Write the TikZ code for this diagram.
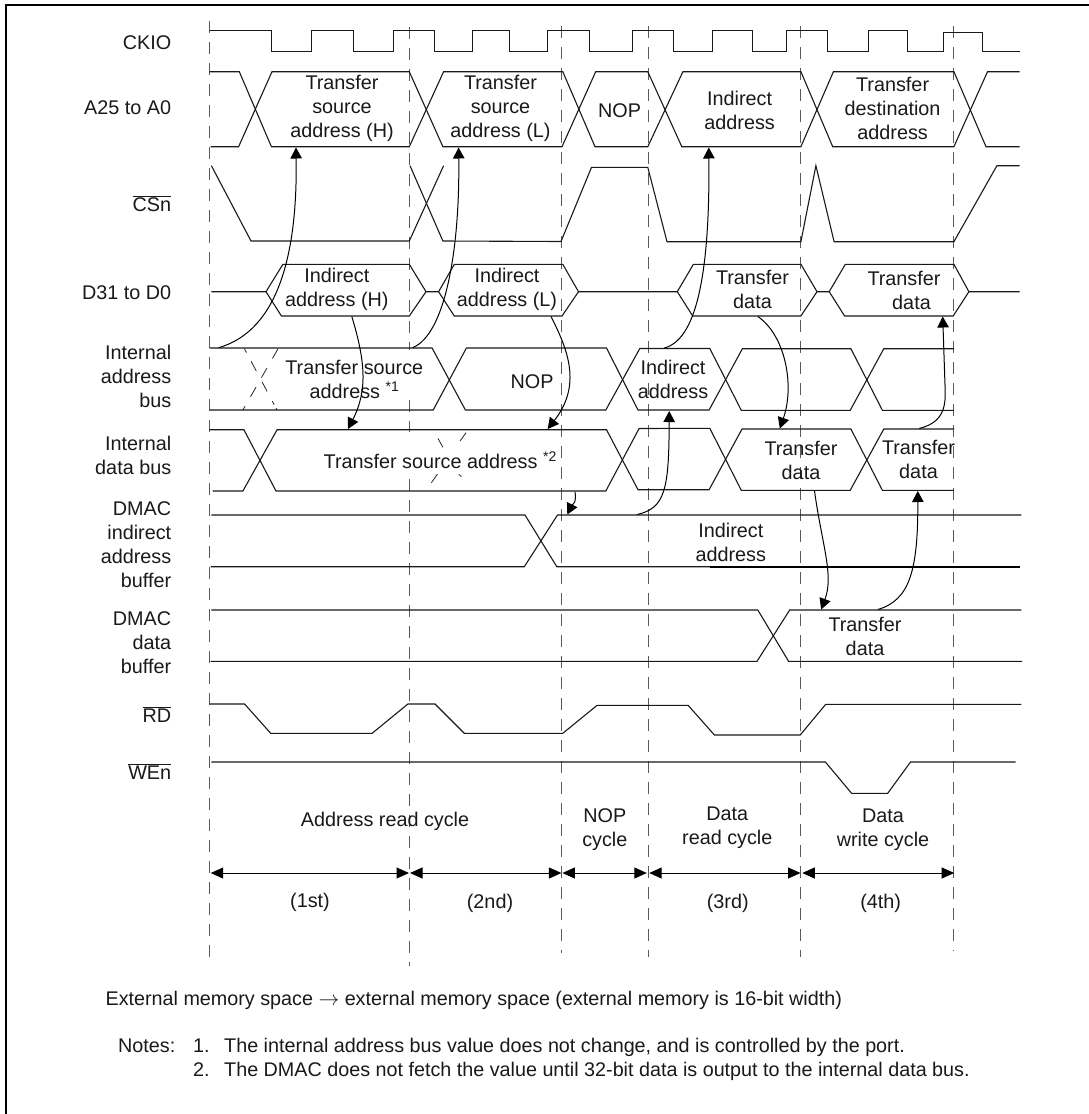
\documentclass[tikz,border=0pt]{standalone}
\usepackage{fontspec}
\setmainfont{Liberation Sans}
\usetikzlibrary{arrows.meta}
\tikzset{
  lab/.style={font=\fontsize{19.8}{24}\selectfont, inner sep=0pt, align=center, yshift=-2.4pt,
    text=black!90, execute at begin node=\strut, execute at end node=\strut},
  rlab/.style={lab, align=right, anchor=east},
  note/.style={font=\fontsize{19.75}{24}\selectfont, inner sep=0pt, anchor=base west, text=black!90},
  wave/.style={line width=1.1pt, black!90, line join=miter},
  guide/.style={line width=0.9pt, black!65, dash pattern=on 12pt off 9pt},
  ghost/.style={line width=0.8pt, black!85},
  xfer/.style={line width=1pt, black, -{Triangle[length=11pt,width=11.5pt]}},
  span/.style={line width=1pt, black, {Triangle[length=12.5pt,width=11pt]}-{Triangle[length=12.5pt,width=11pt]}},
  frameline/.style={line width=2.2pt, black}
}
\newcommand{\barlab}[1]{$\overline{\mbox{#1}}$}
\begin{document}
\begin{tikzpicture}[x=1pt,y=-1pt]
\useasboundingbox (0,0) rectangle (1089,1114);
% frame
\draw[frameline] (1089,5) -- (6,5) -- (6,1114);
% guides
\draw[guide] (209.6,21) -- (209.6,962);
\draw[guide] (409.3,27) -- (409.3,350);
\draw[guide] (409.3,400) -- (409.3,432);
\draw[guide] (409.3,479) -- (409.3,966);
\draw[guide] (561.7,26) -- (561.7,953);
\draw[guide] (648.2,26) -- (648.2,957);
\draw[guide] (800.9,26) -- (800.9,957);
\draw[guide] (953.9,26) -- (953.9,951);
% ghost crossings
\draw[ghost, dash pattern=on 11pt off 11pt] (277.9,349) -- (242.9,410);
\draw[ghost, dash pattern=on 4pt off 10pt on 11pt off 12pt on 11pt off 11pt on 4pt] (244.6,349) -- (277,410);
\draw[ghost] (466.1,432.7) -- (460,441);
\draw[ghost] (437.5,474) -- (431.4,482.7);
\draw[ghost] (437.9,438.3) -- (442.9,447.3);
\draw[ghost] (458.9,474.3) -- (461.4,476.7);
% CKIO
\draw[wave] (209.6,30.3) -| (271.8,51.3) -| (311.4,30.3) -| (353.6,51.3) -| (393.2,30.3) -| (434.6,51.3) -| (472.9,30.3) -| (509.6,51.3) -| (547.5,30.3) -| (589.4,51.3) -| (632.8,30.3) -| (673.4,51.3) -| (712.3,30.3) -| (752.5,51.3) -| (786.5,30.3) -| (827.8,51.3) -| (868.8,30.3) -| (907.6,51.3) -| (943.4,32.3) -| (982.9,51.7) -- (1019.7,51.7);
% A25 to A0
\draw[wave] (209.6,71.7) -- (239.3,71.7) -- (271.4,146.7) -- (409.3,146.7) -- (443.6,71.7) -- (562.8,71.7) -- (595,146.7) -- (647.8,146.7) -- (682.9,71.7) -- (800.9,71.7) -- (832.7,146.7) -- (953.9,146.7) -- (987.5,71.7) -- (1019.7,71.7);
\draw[wave] (210.7,146.7) -- (238.6,146.7) -- (272,71.7) -- (409.3,71.7) -- (442.9,146.7) -- (562,146.7) -- (595.7,71.7) -- (647.8,71.7) -- (681.8,146.7) -- (800.9,146.7) -- (833.4,71.7) -- (953.9,71.7) -- (986,146.7) -- (1019.7,146.7);
% CSn
\draw[wave] (211.4,165.7) -- (251,241) -- (409.3,241) -- (443.6,165.7);
\draw[wave] (410,165.7) -- (442.9,241) -- (561,241.5) -- (591.5,167.3) -- (647.8,167.3) -- (667,241.7) -- (800.9,241.7) -- (815.9,165.7) -- (834.1,241.7) -- (953.9,241.7) -- (996.9,165.7) -- (1019.7,165.7);
% D31 to D0
\draw[wave] (211.4,291.7) -- (266,291.7) -- (282.9,264.3) -- (409.3,264.3) -- (426,291.7) -- (438.6,291.7) -- (454.3,264.3) -- (562.8,264.3) -- (578.5,291.7) -- (677.3,291.7) -- (693.4,264.3) -- (800.9,264.3) -- (817,291.7) -- (829.2,291.7) -- (845.3,264.3) -- (953.9,264.3) -- (968.9,291.7) -- (1019.7,291.7);
\draw[wave] (266,291.7) -- (281.4,316) -- (409.3,316) -- (426,291.7);
\draw[wave] (438.6,291.7) -- (454.3,316) -- (562,316) -- (578.5,291.7);
\draw[wave] (677.3,291.7) -- (692.7,316) -- (800.9,316) -- (817,291.7);
\draw[wave] (829.2,291.7) -- (844.6,316) -- (953.2,316) -- (968.9,291.7);
% Internal address bus
\draw[wave] (209.6,348) -- (432.1,348) -- (465.4,410) -- (605.8,410) -- (639.8,348.5) -- (709.8,348.5) -- (741.3,410.3) -- (850.2,410.3) -- (883.8,348.7) -- (954.2,348.7);
\draw[wave] (209.6,410) -- (433.2,410) -- (466.4,348) -- (606.5,348) -- (638,410) -- (709.1,410) -- (742.4,348.7) -- (850.9,348.7) -- (882.4,410.3) -- (954.2,410.3);
% Internal data bus
\draw[wave] (209.6,429.7) -- (243.9,429.7) -- (276,491) -- (605.8,491) -- (639.1,428.5) -- (709.8,428.3) -- (741.3,490.3) -- (850.2,490.3) -- (883.8,429) -- (954.2,429);
\draw[wave] (212.5,491) -- (242.9,491) -- (277.1,429.7) -- (606.5,429.7) -- (638,489.7) -- (709.1,489.7) -- (742,429) -- (850.9,429) -- (882.4,490.3) -- (954.2,490.3);
% DMAC indirect address buffer
\draw[wave] (211.4,515) -- (525,515) -- (556.8,566.7) -- (1019.7,566.7);
\draw[wave] (210.7,566.7) -- (524.3,566.7) -- (557.5,515) -- (1021.4,515);
\draw[line width=1.7pt, black] (709.8,566.7) -- (1019.7,566.7);
% DMAC data buffer
\draw[wave] (211.4,610) -- (757.8,610) -- (788.6,661.3) -- (1022.2,661.3);
\draw[wave] (210.7,661.3) -- (757,661.3) -- (789.7,610) -- (1021.4,610);
% RD
\draw[wave] (209.6,704) -- (244.6,704) -- (270.7,733.3) -- (372.1,733.3) -- (407.9,704) -- (435,704) -- (464.3,733.3) -- (562.8,733.3) -- (597.1,705.3) -- (688.1,705.3) -- (714.4,735) -- (800.2,735) -- (825.7,704.3) -- (1021.4,704.3);
% WEn
\draw[wave] (211.4,762) -- (825.4,762) -- (851.6,793.3) -- (887.7,793.3) -- (910.5,762) -- (1015.5,762);
% cycle spans
\draw[span] (210.7,873) -- (409,873);
\draw[span] (410,873) -- (561.4,873);
\draw[span] (562.4,873) -- (646.8,873);
\draw[span] (649.2,873) -- (800.5,873);
\draw[span] (802.3,873) -- (954.2,873);
% signal labels
\node[rlab] (ckio) at (171.4,42.3) {CKIO};
\node[rlab] (addr) at (171.4,107) {A25 to A0};
\node[rlab] (cs) at (171.4,204) {\barlab{CSn}};
\node[rlab] (data) at (171.4,292) {D31 to D0};
\node[rlab] (iab) at (171.4,377.5) {Internal\\address\\bus};
\node[rlab] (idb) at (171.4,457) {Internal\ \\data bus};
\node[rlab] (dia) at (171.4,545.3) {DMAC\\indirect\\address\\buffer};
\node[rlab] (ddb) at (171.4,643.7) {DMAC\\data\\buffer};
\node[rlab] (rd) at (171.4,715) {\barlab{RD}};
\node[rlab] (we) at (171.4,772.3) {\barlab{WEn}};
% A25 values
\node[lab] (a1) at (342,108) {Transfer\\source\\address (H)};
\node[lab] (a2) at (500.5,108) {Transfer\\source\\address (L)};
\node[lab] (a3) at (619.5,110) {NOP};
\node[lab] (a4) at (739.6,111.3) {Indirect\\address};
\node[lab] (a5) at (892.6,109.4) {Transfer\\destination\\address};
% D31 values
\node[lab] (d1) at (336.8,288.3) {Indirect\\address (H)};
\node[lab] (d2) at (507,288.7) {Indirect\\address (L)};
\node[lab] (d3) at (752.5,290.3) {Transfer\\data};
\node[lab] (d4) at (904,292) {Transfer\\\hspace*{15pt}data};
% internal address bus values
\node[lab] (i1) at (354.3,380.3) {Transfer source\\address \raisebox{7pt}{\fontsize{14}{14}\selectfont *1}};
\node[lab] (i2) at (532,381) {NOP};
\node[lab] (i3) at (673,380.3) {Indirect\\address};
% internal data bus values
\node[lab] (j1) at (440,461) {Transfer source address \raisebox{7pt}{\fontsize{14}{14}\selectfont *2}};
\node[lab] (j2) at (801,461.3) {Transfer\\data};
\node[lab] (j3) at (918.5,460.7) {Transfer\\data};
% DMAC values
\node[lab] (k1) at (730.8,543.7) {Indirect\\address};
\node[lab] (k2) at (865,637.5) {Transfer\\data};
% cycles
\node[lab] (c1) at (385,819.3) {Address read cycle};
\node[lab] (c2) at (604.8,828.3) {NOP\\cycle};
\node[lab] (c3) at (727.3,827.3) {Data\\read cycle};
\node[lab] (c4) at (883,828.7) {Data\\write cycle};
\node[lab] (n1) at (310,900.7) {(1st)};
\node[lab] (n2) at (490,901.7) {(2nd)};
\node[lab] (n3) at (727.7,901.7) {(3rd)};
\node[lab] (n4) at (880.7,901.7) {(4th)};
% transfer arrows
\coordinate (s1) at (218.6,347.7);  \coordinate (t1) at (296,147.5);
\coordinate (s2) at (412.5,347.7);  \coordinate (t2) at (458.6,147.5);
\coordinate (s3) at (351.8,316.5);  \coordinate (t3) at (348,429);
\coordinate (s4) at (551,316.5);    \coordinate (t4) at (547.7,429);
\coordinate (s5) at (575,492);      \coordinate (t5) at (567.3,514.5);
\coordinate (s6) at (637.3,514.5);  \coordinate (t6) at (669.2,411);
\coordinate (s7) at (664.3,348);    \coordinate (t7) at (708.8,147.5);
\coordinate (s8) at (757.8,316.5);  \coordinate (t8) at (779.8,428.5);
\coordinate (s9) at (814.5,491);    \coordinate (t9) at (821.2,609.5);
\coordinate (s10) at (877.9,609.5); \coordinate (t10) at (917.8,491);
\coordinate (s11) at (919.2,428.5); \coordinate (t11) at (942.7,316.5);
\draw[xfer] (s1) .. controls (280,330) and (297.5,250) .. (t1);
\draw[xfer] (s2) .. controls (445,335) and (460,250) .. (t2);
\draw[xfer] (s3) .. controls (365,360) and (368,390) .. (t3);
\draw[xfer] (s4) .. controls (568,350) and (582,385) .. (t4);
\draw[xfer] (s5) .. controls (577,503) and (572,505) .. (t5);
\draw[xfer] (s6) .. controls (665,508) and (669,490) .. (t6);
\draw[xfer] (s7) .. controls (695,340) and (710,280) .. (t7);
\draw[xfer] (s8) .. controls (785,335) and (795,385) .. (t8);
\draw[xfer] (s9) .. controls (822,545) and (834,575) .. (t9);
\draw[xfer] (s10) .. controls (910,600) and (918,570) .. (t10);
\draw[xfer] (s11) .. controls (945,422) and (946,405) .. (945,385) -- (t11);
% notes
\node[note] (m0) at (105.4,1005) {External memory space $\rightarrow$ external memory space (external memory is 16-bit width)};
\node[note] (m1) at (118,1052.7) {Notes:};
\node[note] (m2) at (192.9,1052.7) {1.};
\node[note] (m3) at (224,1052.7) {The internal address bus value does not change, and is controlled by the port.};
\node[note] (m4) at (192.9,1076.7) {2.};
\node[note] (m5) at (224,1076.7) {The DMAC does not fetch the value until 32-bit data is output to the internal data bus.};
\end{tikzpicture}
\end{document}
